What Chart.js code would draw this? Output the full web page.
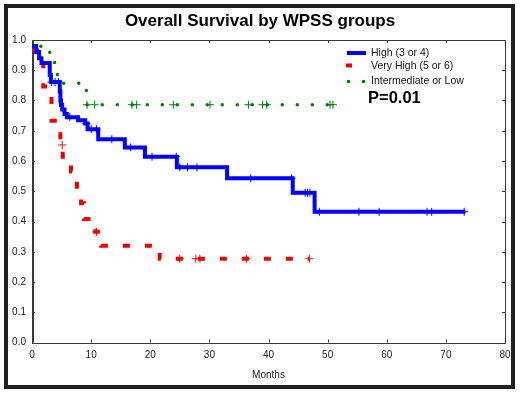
<!DOCTYPE html>
<html>
<head>
<meta charset="utf-8">
<script src="https://cdn.jsdelivr.net/npm/chart.js@4.4.1/dist/chart.umd.min.js"></script>
<style>
  body { margin: 0; background: #fff; }
  #wrap { position: relative; width: 520px; height: 393px; }
  #myChart { position: absolute; left: 0; top: 0; }
  #box { position: absolute; left: 4px; top: 4px; width: 511px; height: 385px;
         box-sizing: border-box; border: 4px solid #1e1e1e; pointer-events: none; }
</style>
</head>
<body>
<div id="wrap">
  <canvas id="myChart" width="520" height="393"></canvas>
  <div id="box"></div>
</div>
<script>
// Kaplan-Meier steps (months, survival)
var blueT = [0, 0.7, 1.2, 1.6, 3.0, 3.2, 4.7, 4.8, 4.9, 5.1, 5.5, 5.9, 7.8, 9.0, 9.4, 11.2, 15.7, 19.1, 24.5, 33.0, 44.1, 47.8, 73.3];
var blueS = [0.98, 0.96, 0.94, 0.924, 0.884, 0.861, 0.83, 0.80, 0.785, 0.77, 0.755, 0.745, 0.735, 0.724, 0.705, 0.672, 0.645, 0.614, 0.579, 0.543, 0.495, 0.432, 0.432];
var blueCT = [3.3, 3.9, 4.5, 6.4, 9.2, 10.0, 10.9, 13.5, 16.7, 20.3, 24.4, 25.0, 26.3, 27.9, 37.0, 43.9, 46.2, 46.6, 47.0, 48.6, 55.3, 58.7, 66.8, 67.6, 73.1];
var blueCS = [0.861, 0.861, 0.861, 0.745, 0.724, 0.705, 0.705, 0.672, 0.645, 0.614, 0.614, 0.579, 0.579, 0.579, 0.543, 0.543, 0.495, 0.495, 0.495, 0.432, 0.432, 0.432, 0.432, 0.432, 0.432];

var redT = [0, 1.9, 3.3, 4.8, 5.2, 6.6, 7.6, 8.3, 8.8, 10.7, 11.7, 21.6, 46.9];
var redS = [0.965, 0.846, 0.733, 0.653, 0.614, 0.565, 0.515, 0.46, 0.408, 0.366, 0.32, 0.277, 0.277];
var redCT = [5.1, 10.9, 25.0, 27.7, 28.4, 36.3, 46.9];
var redCS = [0.653, 0.366, 0.277, 0.277, 0.277, 0.277, 0.277];

var greenT = [0, 1.5, 3.0, 4.0, 4.3, 9.2, 51.0];
var greenS = [1.0, 0.963, 0.926, 0.89, 0.857, 0.786, 0.786];
var greenCT = [9.3, 10.6, 16.9, 17.7, 23.9, 30.1, 36.6, 39.0, 39.7, 50.4, 50.9];
var greenCS = [0.786, 0.786, 0.786, 0.786, 0.786, 0.786, 0.786, 0.786, 0.786, 0.786, 0.786];

var labels = ['High (3 or 4)', 'Very High (5 or 6)', 'Intermediate or Low'];
var pText = 'P=0.01';

var BLUE = 'rgb(0,0,255)';
var RED = 'rgb(240,0,0)';
var GREEN = 'rgb(0,125,0)';

function pts(t, s) {
  var out = [];
  for (var i = 0; i < t.length; i++) out.push({x: t[i], y: s[i]});
  return out;
}

function censor(t, s, col) {
  return {
    data: pts(t, s), showLine: false, borderColor: col, backgroundColor: col,
    pointStyle: 'cross', pointRadius: 4, borderWidth: 1
  };
}

function curve(t, s, col, w, dash, cap) {
  return {
    data: pts(t, s), stepped: true, borderColor: col, borderWidth: w,
    borderDash: dash, borderCapStyle: cap, pointRadius: 0, fill: false
  };
}

// plot frame + inward ticks on all four sides, legend and p-value
var frame = {
  id: 'frame',
  beforeDatasetsDraw: function(chart) {
    var ctx = chart.ctx, a = chart.chartArea, xs = chart.scales.x, ys = chart.scales.y;
    ctx.save();
    ctx.strokeStyle = '#3a3a3a';
    ctx.lineWidth = 1;
    ctx.strokeRect(Math.round(a.left) + 0.5, Math.round(a.top) + 0.5,
                   Math.round(a.right - a.left), Math.round(a.bottom - a.top));
    ctx.beginPath();
    ctx.moveTo(Math.round(a.left) + 1.5, a.top);
    ctx.lineTo(Math.round(a.left) + 1.5, a.bottom);
    xs.ticks.forEach(function(tk) {
      var px = Math.round(xs.getPixelForValue(tk.value)) + 0.5;
      ctx.moveTo(px, a.bottom); ctx.lineTo(px, a.bottom - 3);
      ctx.moveTo(px, a.top); ctx.lineTo(px, a.top + 3);
    });
    ys.ticks.forEach(function(tk) {
      var py = Math.round(ys.getPixelForValue(tk.value)) + 0.5;
      ctx.moveTo(a.left, py); ctx.lineTo(a.left + 3, py);
      ctx.moveTo(a.right, py); ctx.lineTo(a.right - 3, py);
    });
    ctx.stroke();
    ctx.restore();
  },
  afterDraw: function(chart) {
    var ctx = chart.ctx;
    ctx.save();
    ctx.lineWidth = 4;
    ctx.strokeStyle = BLUE;
    ctx.beginPath(); ctx.moveTo(347, 53); ctx.lineTo(366, 53); ctx.stroke();
    ctx.strokeStyle = RED;
    ctx.beginPath(); ctx.moveTo(346, 65.5); ctx.lineTo(352, 65.5); ctx.stroke();
    ctx.fillStyle = GREEN;
    [348.5, 363.5].forEach(function(cx) {
      ctx.beginPath(); ctx.arc(cx, 81.5, 1.8, 0, Math.PI * 2); ctx.fill();
    });
    ctx.fillStyle = '#111';
    ctx.font = '10.5px "Liberation Sans", Arial, sans-serif';
    ctx.textBaseline = 'middle';
    ctx.fillText(labels[0], 371, 53);
    ctx.fillText(labels[1], 371, 66);
    ctx.fillText(labels[2], 371, 81);
    ctx.font = 'bold 16.5px "Liberation Sans", Arial, sans-serif';
    ctx.fillStyle = '#000';
    ctx.fillText(pText, 368, 98.5);
    ctx.restore();
  }
};

Chart.defaults.font.family = '"Liberation Sans", Arial, sans-serif';
Chart.defaults.color = '#222';

var config = {
  type: 'line',
  data: {
    datasets: [
      censor(blueCT, blueCS, BLUE),
      curve(blueT, blueS, BLUE, 4, [], 'butt'),
      censor(redCT, redCS, RED),
      curve(redT, redS, RED, 4, [7, 15], 'butt'),
      censor(greenCT, greenCS, GREEN),
      curve(greenT, greenS, GREEN, 3.5, [0, 15], 'round')
    ]
  },
  options: {
    responsive: false,
    animation: false,
    layout: { padding: 0 },
    plugins: {
      legend: { display: false },
      tooltip: { enabled: false },
      title: {
        display: true,
        text: 'Overall Survival by WPSS groups',
        color: '#000',
        font: { size: 17, weight: 'bold' },
        padding: { top: 11.5, bottom: 8.1 }
      }
    },
    scales: {
      x: {
        type: 'linear', min: 0, max: 80,
        grid: { display: false, drawTicks: false },
        border: { display: false },
        ticks: { stepSize: 10, padding: 7, font: { size: 10 }, maxRotation: 0 },
        title: { display: true, text: 'Months', font: { size: 10 }, padding: { bottom: 12 } },
        afterFit: function(s) { s.height = 50.5; }
      },
      y: {
        min: 0, max: 1,
        grid: { display: false, drawTicks: false },
        border: { display: false },
        ticks: { stepSize: 0.1, padding: 6, font: { size: 10 },
                 callback: function(v) { return v.toFixed(1); } },
        afterFit: function(s) { s.width = 32; }
      },
      yRight: {
        position: 'right', min: 0, max: 1,
        grid: { display: false, drawTicks: false },
        border: { display: false },
        ticks: { display: false },
        afterFit: function(s) { s.width = 15; }
      }
    }
  },
  plugins: [frame]
};

var myChart = new Chart(document.getElementById('myChart'), config);
</script>
</body>
</html>
